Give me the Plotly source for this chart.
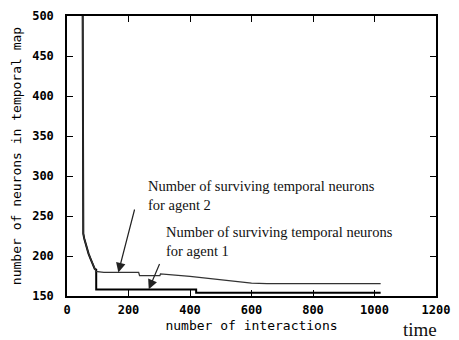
import plotly.graph_objects as go

# Agent 1 (lower curve)
agent1_x = [51, 51, 53, 53, 56, 60, 65, 70, 75, 80, 85, 90, 95, 95, 420, 420, 1020]
agent1_y = [500, 295, 295, 228, 222, 216, 210, 203, 198, 194, 189, 184, 183, 158, 158, 154, 154]

# Agent 2 (upper curve)
agent2_x = [51, 51, 53, 53, 56, 60, 65, 70, 75, 80, 85, 90, 93, 93, 120, 233, 236, 302, 304, 400, 500, 600, 650, 1020]
agent2_y = [500, 295, 295, 228, 222, 216, 210, 203, 198, 194, 189, 184, 182, 180.6, 179.6, 179.6, 175.5, 175.5, 177.6, 174.5, 170, 166, 165.5, 165.5]

x_ticks = [0, 200, 400, 600, 800, 1000, 1200]
y_ticks = [150, 200, 250, 300, 350, 400, 450, 500]

label_agent2 = "Number of surviving temporal neurons<br>for agent 2"
label_agent1 = "Number of surviving temporal neurons<br>for agent 1"

fig = go.Figure()
fig.add_trace(go.Scatter(x=agent1_x, y=agent1_y, mode="lines",
                         line=dict(color="#000000", width=2), showlegend=False))
fig.add_trace(go.Scatter(x=agent2_x, y=agent2_y, mode="lines",
                         line=dict(color="#333333", width=1.3), showlegend=False))

mono = "DejaVu Sans Mono"
serif = "Liberation Serif"

axis_common = dict(showgrid=False, zeroline=False, showline=True, linecolor="black",
                   linewidth=1.5, mirror="ticks", ticks="inside", ticklen=6,
                   tickcolor="black", tickwidth=1.2,
                   tickfont=dict(family=mono, size=12, color="black", weight="bold"))

fig.update_xaxes(range=[0, 1200], tickvals=x_ticks, ticktext=[str(v) for v in x_ticks],
                 title=dict(text="number of interactions", font=dict(family=mono, size=13, color="black"),
                            standoff=5),
                 ticklabelstandoff=2,
                 **axis_common)
fig.update_yaxes(range=[150, 500], tickvals=y_ticks, ticktext=[str(v) for v in y_ticks],
                 title=dict(text="number of neurons in temporal map", font=dict(family=mono, size=13, color="black"),
                            standoff=8),
                 ticklabelstandoff=9,
                 **axis_common)

# arrows
fig.add_annotation(x=167, y=179.5, ax=221, ay=260, axref="x", ayref="y", xref="x", yref="y",
                   text="", showarrow=True, arrowhead=2, arrowsize=1.6, arrowwidth=1.2, arrowcolor="#222")
fig.add_annotation(x=266, y=158.5, ax=303, ay=192, axref="x", ayref="y", xref="x", yref="y",
                   text="", showarrow=True, arrowhead=2, arrowsize=1.6, arrowwidth=1.2, arrowcolor="#222")

# labels
fig.add_annotation(x=0.215, y=0.3576, xref="paper", yref="paper", xanchor="left", yanchor="middle",
                   align="left", text=label_agent2, showarrow=False,
                   font=dict(family=serif, size=14.5, color="#111"))
fig.add_annotation(x=0.263, y=0.195, xref="paper", yref="paper", xanchor="left", yanchor="middle",
                   align="left", text=label_agent1, showarrow=False,
                   font=dict(family=serif, size=14.5, color="#111"))
fig.add_annotation(x=0.957, y=-0.119, xref="paper", yref="paper", xanchor="center", yanchor="middle",
                   text="time", showarrow=False, borderpad=0,
                   font=dict(family=serif, size=19, color="#111"))

fig.update_layout(width=459, height=340, margin=dict(l=67, r=17, t=9, b=43),
                  plot_bgcolor="white", paper_bgcolor="white")

fig.write_html("out.html")
